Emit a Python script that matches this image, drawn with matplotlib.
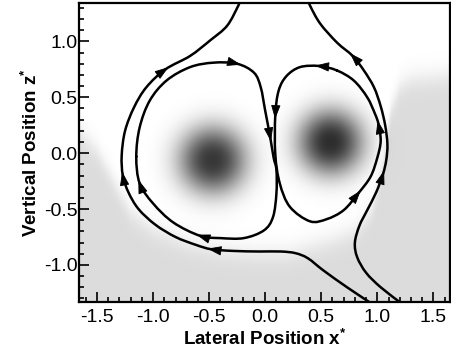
import numpy as np
import matplotlib
matplotlib.use("Agg")
import matplotlib.pyplot as plt
from matplotlib.path import Path
from matplotlib.patches import PathPatch, FancyArrowPatch
from matplotlib.ticker import MultipleLocator

plt.rcParams["font.family"] = ["Liberation Sans", "DejaVu Sans"]
plt.rcParams["mathtext.fontset"] = "custom"
plt.rcParams["mathtext.rm"] = "Liberation Sans:bold"
plt.rcParams["mathtext.it"] = "Liberation Sans:bold"
plt.rcParams["mathtext.bf"] = "Liberation Sans:bold"

# ---------------- data ----------------
xticks = [-1.5, -1.0, -0.5, 0.0, 0.5, 1.0, 1.5]
yticks = [-1.0, -0.5, 0.0, 0.5, 1.0]
xlim = (-1.66, 1.65)
ylim = (-1.33, 1.345)

# outer left separatrix (flow: bottom-right -> left -> up -> top)
lineA_x = [0.94, 0.73, 0.52, 0.38, 0.27, 0.14, -0.05, -0.28, -0.48, -0.62, -0.80,
           -0.98, -1.13, -1.22, -1.27, -1.28, -1.25, -1.17, -1.06, -0.89, -0.67, -0.49, -0.34, -0.24, -0.22]
lineA_y = [-1.34, -1.20, -1.05, -0.94, -0.895, -0.88, -0.88, -0.875, -0.86, -0.82, -0.75,
           -0.64, -0.50, -0.35, -0.20, -0.02, 0.20, 0.41, 0.59, 0.75, 0.87, 1.01, 1.14, 1.32, 1.37]
# outer right separatrix (flow: bottom -> up right side -> top)
lineB_x = [1.21, 1.03, 0.90, 0.82, 0.80, 0.84, 0.91, 0.99, 1.05, 1.08, 1.09, 1.07, 1.03, 0.97, 0.88,
           0.78, 0.64, 0.49, 0.40, 0.385]
lineB_y = [-1.34, -1.20, -1.07, -0.93, -0.80, -0.65, -0.51, -0.35, -0.19, -0.06, 0.08, 0.25, 0.42, 0.59,
           0.74, 0.87, 0.99, 1.16, 1.32, 1.37]
# inner left loop (clockwise)
lineC_x = [-1.15, -1.12, -1.03, -0.88, -0.67, -0.46, -0.25, -0.10, -0.04, 0.00, 0.045,
           0.075, 0.10, 0.10, 0.07, -0.01, -0.19, -0.40, -0.58, -0.82, -1.00, -1.12]
lineC_y = [-0.03, 0.23, 0.47, 0.65, 0.77, 0.81, 0.80, 0.72, 0.59, 0.38, 0.14,
           -0.04, -0.15, -0.36, -0.57, -0.69, -0.76, -0.76, -0.74, -0.62, -0.45, -0.27]
# inner right loop (counter-clockwise)
lineD_x = [0.64, 0.48, 0.31, 0.19, 0.12, 0.09, 0.09, 0.13, 0.22, 0.40, 0.55, 0.70, 0.83,
           0.94, 1.00, 1.03, 1.01, 0.98, 0.91, 0.79]
lineD_y = [0.74, 0.78, 0.77, 0.69, 0.56, 0.34, -0.01, -0.27, -0.48, -0.61, -0.59, -0.51, -0.36,
           -0.21, -0.04, 0.11, 0.26, 0.35, 0.50, 0.65]

arrowsA = [(-0.89, 0.75), (-1.27, -0.20), (-0.48, -0.86)]
arrowsB = [(0.78, 0.87), (1.05, -0.19)]
arrowsC = [(-0.25, 0.80), (0.045, 0.14), (-0.58, -0.74), (-1.12, -0.27)]
arrowsD = [(0.48, 0.78), (0.09, 0.34), (1.01, 0.26), (0.83, -0.36)]

# concentration blobs
blob_x = [-0.47, 0.58]
blob_y = [-0.06, 0.10]
blob_peak = [0.78, 0.82]
blob_radius = [0.30, 0.29]

# lower boundary of the light-gray background region
bnd_x = [-1.70, -1.50, -1.37, -1.29, -1.20, -1.00, -0.70, -0.40, -0.10, 0.20, 0.40, 0.60,
         0.80, 0.95, 1.05, 1.12, 1.20, 1.30, 1.70]
bnd_y = [0.24, 0.02, -0.22, -0.38, -0.53, -0.68, -0.80, -0.87, -0.90, -0.90, -0.84, -0.78,
         -0.70, -0.50, -0.10, 0.40, 0.60, 0.66, 0.70]
bg_level = 0.14

# ---------------- figure ----------------
fig = plt.figure(figsize=(4.52, 3.58), dpi=100)
ax = fig.add_axes([0.175, 0.157, 0.821, 0.835])

nx, ny = 500, 400
gx = np.linspace(xlim[0], xlim[1], nx)
gy = np.linspace(ylim[0], ylim[1], ny)
GX, GY = np.meshgrid(gx, gy)
yb = np.interp(GX, bnd_x, bnd_y)
field = bg_level / (1.0 + np.exp(-(yb - GY) / 0.06))
for bx, by, bp, br in zip(blob_x, blob_y, blob_peak, blob_radius):
    r = np.hypot(GX - bx, GY - by)
    field = field + bp * np.exp(-(r / br) ** 2.4)
field = np.clip(field, 0, 1)
ax.imshow(field, cmap="gray_r", vmin=0, vmax=1, origin="lower",
          extent=[xlim[0], xlim[1], ylim[0], ylim[1]], aspect="auto",
          interpolation="bilinear", zorder=0)


def smooth_path(xs, ys, closed=False):
    P = np.column_stack([xs, ys]).astype(float)
    n = len(P)
    verts = [P[0]]
    codes = [Path.MOVETO]
    rng = n if closed else n - 1
    for i in range(rng):
        p0 = P[(i - 1) % n] if (closed or i > 0) else P[i]
        p1 = P[i]
        p2 = P[(i + 1) % n]
        p3 = P[(i + 2) % n] if (closed or i + 2 < n) else P[(i + 1) % n]
        c1 = p1 + (p2 - p0) / 6.0
        c2 = p2 - (p3 - p1) / 6.0
        verts += [c1, c2, p2]
        codes += [Path.CURVE4] * 3
    return Path(verts, codes)


def draw_line(xs, ys, arrows, closed=False):
    path = smooth_path(xs, ys, closed)
    ax.add_patch(PathPatch(path, facecolor="none", edgecolor="black", lw=1.8,
                           zorder=3, capstyle="round", joinstyle="round"))
    P = np.column_stack([xs, ys]).astype(float)
    n = len(P)
    for (axx, ayy) in arrows:
        i = int(np.argmin(np.hypot(P[:, 0] - axx, P[:, 1] - ayy)))
        if closed:
            t = P[(i + 1) % n] - P[(i - 1) % n]
        else:
            t = P[min(i + 1, n - 1)] - P[max(i - 1, 0)]
        t = t / np.hypot(*t)
        p = P[i]
        arr = FancyArrowPatch(p - 0.012 * t, p + 0.035 * t,
                              arrowstyle="-|>,head_length=0.8,head_width=0.27",
                              mutation_scale=11, color="black", lw=0.6,
                              shrinkA=0, shrinkB=0, zorder=4)
        ax.add_patch(arr)


draw_line(lineA_x, lineA_y, arrowsA)
draw_line(lineB_x, lineB_y, arrowsB)
draw_line(lineC_x, lineC_y, arrowsC, closed=True)
draw_line(lineD_x, lineD_y, arrowsD, closed=True)

ax.set_xlim(*xlim)
ax.set_ylim(*ylim)
ax.set_xticks(xticks)
ax.set_yticks(yticks)
ax.set_xticklabels([f"{v:.1f}" for v in xticks])
ax.set_yticklabels([f"{v:.1f}" for v in yticks])
ax.xaxis.set_minor_locator(MultipleLocator(0.1))
ax.yaxis.set_minor_locator(MultipleLocator(0.1))
ax.tick_params(which="both", direction="in", top=False, right=False, width=1.2)
ax.tick_params(which="major", length=7, labelsize=14)
ax.tick_params(which="minor", length=3.5)
ax.tick_params(axis="x", which="major", pad=5)
ax.tick_params(axis="y", which="major", pad=1)
for s in ax.spines.values():
    s.set_linewidth(1.6)

ax.set_xlabel(r"Lateral Position x$^{*}$", fontsize=13.5, fontweight="bold", labelpad=2)
ax.set_ylabel(r"Vertical Position z$^{*}$", fontsize=13.5, fontweight="bold", labelpad=2)

fig.savefig("out.png", dpi=100)
